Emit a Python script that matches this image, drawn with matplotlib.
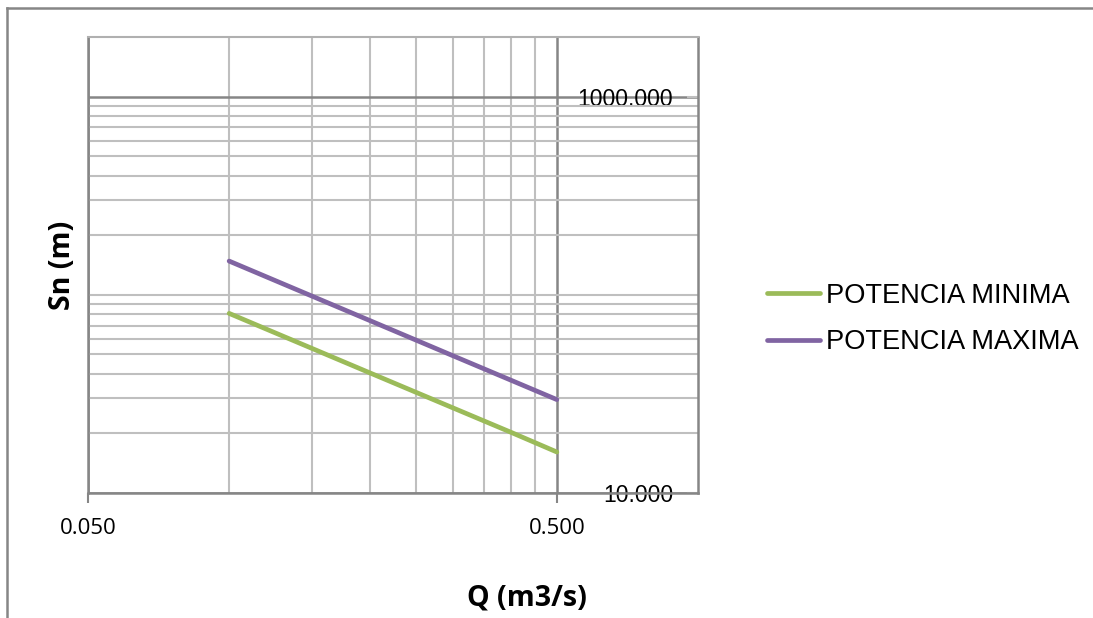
import numpy as np
import matplotlib
matplotlib.use('Agg')
import matplotlib.pyplot as plt
from matplotlib.lines import Line2D

# data
caudal = [0.1, 0.2, 0.3, 0.4, 0.5]
sn_minima = [80.6, 40.3, 26.9, 20.2, 16.1]
sn_maxima = [148.0, 74.0, 49.3, 37.0, 29.6]
series_names = ['POTENCIA MINIMA', 'POTENCIA MAXIMA']

x_major = [0.05, 0.5]
x_major_labels = ['0.050', '0.500']
x_minor = [0.10, 0.15, 0.20, 0.25, 0.30, 0.35, 0.40, 0.45]
y_major = [10, 1000]
y_major_labels = ['10.000', '1000.000']
y_minor = [20, 30, 40, 50, 60, 70, 80, 90, 100, 200, 300, 400, 500, 600, 700, 800, 900]

W, H = 1093, 618
fig = plt.figure(figsize=(W / 100, H / 100), dpi=100)
ax = fig.add_axes([88 / W, 1 - 493 / H, 610 / W, 456 / H])

green = '#9BBB59'
purple = '#8064A2'
ax.plot(caudal, sn_minima, color=green, lw=3.4, solid_capstyle='round', label=series_names[0], zorder=3)
ax.plot(caudal, sn_maxima, color=purple, lw=3.4, solid_capstyle='round', label=series_names[1], zorder=3)

ax.set_xscale('log')
ax.set_yscale('log')
ax.set_xlim(0.05, 1.0)
ax.set_ylim(10, 2000)

ax.set_xticks(x_major)
ax.set_xticklabels(x_major_labels, fontfamily='Open Sans', fontsize=16)
ax.set_xticks(x_minor, minor=True)
ax.set_xticklabels([], minor=True)
ax.set_yticks(y_major)
ax.set_yticklabels(y_major_labels, fontfamily='Liberation Sans', fontsize=16.5)
ax.set_yticks(y_minor, minor=True)
ax.set_yticklabels([], minor=True)

ax.yaxis.tick_right()
ax.tick_params(axis='x', which='major', direction='out', length=7, width=1.5, color='#868686', pad=11)
ax.tick_params(axis='y', which='major', direction='in', length=8, width=1.5, color='#bfbfbf', pad=-18)
ax.tick_params(which='minor', length=0)
for lab in ax.get_yticklabels():
    lab.set_horizontalalignment('right')

ax.grid(True, which='minor', color='#bfbfbf', lw=1.5)
ax.grid(True, which='major', color='#868686', lw=1.8)
ax.set_axisbelow(True)

for side in ['left', 'bottom', 'right']:
    ax.spines[side].set_color('#868686')
    ax.spines[side].set_linewidth(1.8)
ax.spines['top'].set_color('#b0b0b0')
ax.spines['top'].set_linewidth(1.5)

ax.set_xlabel('Q (m3/s)', fontfamily='Open Sans', fontweight='bold', fontsize=20.5)
ax.xaxis.set_label_coords((527 - 88) / 610, (493 - 598) / 456)
ax.xaxis.label.set_va('center')
ax.set_ylabel('Sn (m)', fontfamily='Open Sans', fontweight='bold', fontsize=20.5)
ax.yaxis.set_label_position('left')
ax.yaxis.set_label_coords((63 - 88) / 610, 0.5)
ax.yaxis.label.set_va('center')

fig.legend(loc='center left', bbox_to_anchor=(767 / W, 1 - 319 / H), frameon=False,
           prop={'family': 'Liberation Sans', 'size': 19.6}, handlelength=1.95,
           handletextpad=0.2, labelspacing=0.75, borderpad=0, borderaxespad=0)

# chart outer border
fig.add_artist(Line2D([7 / W, 1], [1 - 8 / H, 1 - 8 / H], color='#868686', lw=1.8))
fig.add_artist(Line2D([7 / W, 7 / W], [0, 1 - 8 / H], color='#868686', lw=1.8))

fig.savefig('out.png', dpi=100)
